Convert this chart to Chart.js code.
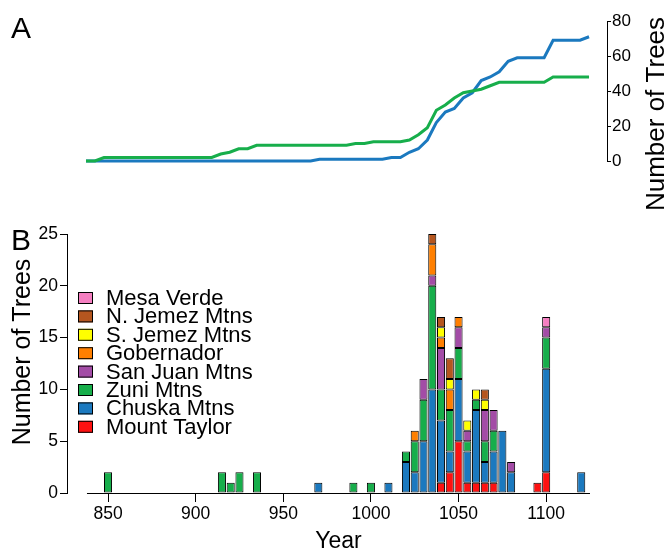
<!DOCTYPE html>
<html>
<head>
<meta charset="utf-8">
<script src="https://cdn.jsdelivr.net/npm/chart.js@4.4.0/dist/chart.umd.min.js"></script>
<style>
  html, body { margin: 0; padding: 0; background: #fff; }
  #wrap { position: relative; width: 665px; height: 550px; }
  #wrap canvas { position: absolute; left: 0; top: 0; }
</style>
</head>
<body>
<div id="wrap">
  <canvas id="chartB" width="665" height="550"></canvas>
  <canvas id="chartA" width="665" height="550"></canvas>
</div>
<script>
// ---- Panel B: trees per 5-year bin, by region ----
const binYears    = [850, 915, 920, 925, 935, 970, 990, 1000, 1010, 1020, 1025, 1030, 1035, 1040, 1045, 1050, 1055, 1060, 1065, 1070, 1075, 1080, 1095, 1100, 1120];
const mountTaylor = [0, 0, 0, 0, 0, 0, 0, 0, 0, 0, 0, 0, 0, 1, 2, 5, 1, 1, 1, 1, 0, 0, 1, 2, 0];
const chuska      = [0, 0, 0, 0, 0, 1, 0, 0, 1, 3, 2, 5, 10, 6, 2, 6, 3, 7, 2, 3, 6, 2, 0, 10, 2];
const zuni        = [2, 2, 1, 2, 2, 0, 1, 1, 0, 1, 3, 4, 10, 3, 4, 3, 1, 1, 2, 2, 0, 0, 0, 3, 0];
const sanJuan     = [0, 0, 0, 0, 0, 0, 0, 0, 0, 0, 0, 2, 1, 4, 0, 2, 1, 0, 3, 2, 0, 1, 0, 1, 0];
const gobernador  = [0, 0, 0, 0, 0, 0, 0, 0, 0, 0, 1, 0, 3, 1, 2, 1, 0, 0, 0, 0, 0, 0, 0, 0, 0];
const sJemez      = [0, 0, 0, 0, 0, 0, 0, 0, 0, 0, 0, 0, 0, 1, 1, 0, 1, 1, 1, 0, 0, 0, 0, 0, 0];
const nJemez      = [0, 0, 0, 0, 0, 0, 0, 0, 0, 0, 0, 0, 1, 1, 2, 0, 0, 0, 1, 0, 0, 0, 0, 0, 0];
const mesaVerde   = [0, 0, 0, 0, 0, 0, 0, 0, 0, 0, 0, 0, 0, 0, 0, 0, 0, 0, 0, 0, 0, 0, 0, 1, 0];

const xTickYears = [850, 900, 950, 1000, 1050, 1100];
const yTicksB = [0, 5, 10, 15, 20, 25];

// ---- Panel A: cumulative number of trees ----
const lineYears   = [840, 845, 850, 910, 915, 920, 925, 930, 935, 965, 970, 985, 990, 995, 1000, 1005, 1010, 1015, 1020, 1025, 1030, 1035, 1040, 1045, 1050, 1055, 1060, 1065, 1070, 1075, 1080, 1090, 1095, 1100, 1115, 1120];
const zuniTotal   = [0, 0, 2, 2, 4, 5, 7, 7, 9, 9, 9, 9, 10, 10, 11, 11, 11, 11, 12, 15, 19, 29, 32, 36, 39, 40, 41, 43, 45, 45, 45, 45, 45, 48, 48, 48];
const chuskaTotal = [0, 0, 0, 0, 0, 0, 0, 0, 0, 0, 1, 1, 1, 1, 1, 1, 2, 2, 5, 7, 12, 22, 28, 30, 36, 39, 46, 48, 51, 57, 59, 59, 59, 69, 69, 71];

const FONT = "'Liberation Sans', Arial, sans-serif";
Chart.defaults.font.family = FONT;
Chart.defaults.color = '#000';

// bottom of stack first
const regions = [
    { label: 'Mount Taylor', counts: mountTaylor, color: '#fe1111' },
    { label: 'Chuska Mtns', counts: chuska, color: '#1b79bf' },
    { label: 'Zuni Mtns', counts: zuni, color: '#17ae4b' },
    { label: 'San Juan Mtns', counts: sanJuan, color: '#a34ca6' },
    { label: 'Gobernador', counts: gobernador, color: '#ff7f00' },
    { label: 'S. Jemez Mtns', counts: sJemez, color: '#ffff00' },
    { label: 'N. Jemez Mtns', counts: nJemez, color: '#b5561f' },
    { label: 'Mesa Verde', counts: mesaVerde, color: '#f57fc1' },
];

const barDatasets = regions.map(r => ({
    label: r.label,
    data: binYears.map((yr, i) => ({ x: yr, y: r.counts[i] })).filter(p => p.y > 0),
    backgroundColor: r.color,
    borderColor: '#000',
    borderWidth: 1,
    borderSkipped: false,
    barPercentage: 0.92,
    categoryPercentage: 1,
}));

// extra drawing for panel B: detached x axis line, titles, legend
const panelBExtras = {
    id: 'panelBExtras',
    afterDraw(chart) {
        const { ctx, scales } = chart;
        const x = scales.x, y = scales.y;
        ctx.save();
        ctx.strokeStyle = '#000';
        ctx.lineWidth = 1;
        const y0 = Math.round(y.getPixelForValue(0)) + 0.5;
        ctx.beginPath();
        ctx.moveTo(x.getPixelForValue(838), y0);
        ctx.lineTo(x.getPixelForValue(1125), y0);
        ctx.stroke();

        ctx.fillStyle = '#000';
        ctx.font = '30px ' + FONT;
        ctx.textAlign = 'left';
        ctx.textBaseline = 'alphabetic';
        ctx.fillText('B', 11, 250);

        ctx.font = '23px ' + FONT;
        ctx.textAlign = 'center';
        ctx.fillText('Year', (x.getPixelForValue(838) + x.getPixelForValue(1125)) / 2, 548);

        ctx.save();
        ctx.translate(23, 352);
        ctx.rotate(-Math.PI / 2);
        ctx.font = '25px ' + FONT;
        ctx.textBaseline = 'middle';
        ctx.fillText('Number of Trees', 0, 0);
        ctx.restore();

        // legend, top of stack first
        const items = chart.data.datasets.slice().reverse();
        ctx.font = '22px ' + FONT;
        ctx.textAlign = 'left';
        ctx.textBaseline = 'middle';
        items.forEach((ds, i) => {
            const cy = 298 + i * 18.4;
            ctx.fillStyle = ds.backgroundColor;
            ctx.fillRect(78, cy - 6, 15, 12);
            ctx.strokeRect(78.5, cy - 5.5, 14, 11);
            ctx.fillStyle = '#000';
            ctx.fillText(ds.label, 106, cy + 1);
        });
        ctx.restore();
    }
};

new Chart(document.getElementById('chartB'), {
    type: 'bar',
    data: { datasets: barDatasets },
    options: {
        responsive: false,
        animation: false,
        layout: { padding: { left: 0, top: 234, right: 75, bottom: 0 } },
        plugins: { legend: { display: false }, tooltip: { enabled: false } },
        scales: {
            x: {
                type: 'linear',
                stacked: true,
                offset: false,
                min: 826.6,
                max: 1125,
                afterBuildTicks(s) { s.ticks = xTickYears.map(v => ({ value: v })); },
                ticks: { font: { size: 17.5 }, color: '#000', padding: 2, maxRotation: 0, autoSkip: false, callback: v => String(v) },
                grid: { offset: false, drawOnChartArea: false, drawTicks: true, tickLength: 9, color: '#000' },
                border: { display: false },
                afterFit(s) { s.height = 57; }
            },
            y: {
                stacked: true,
                min: 0,
                max: 25,
                afterBuildTicks(s) { s.ticks = yTicksB.map(v => ({ value: v })); },
                ticks: { font: { size: 17.5 }, color: '#000', padding: 2 },
                grid: { drawOnChartArea: false, drawTicks: true, tickLength: 7, color: '#000' },
                border: { display: true, color: '#000', width: 1 },
                afterFit(s) { s.width = 67; }
            }
        }
    },
    plugins: [panelBExtras]
});

// ---- Panel A ----
const panelAExtras = {
    id: 'panelAExtras',
    afterDraw(chart) {
        const { ctx } = chart;
        ctx.save();
        ctx.fillStyle = '#000';
        ctx.font = '30px ' + FONT;
        ctx.textBaseline = 'alphabetic';
        ctx.fillText('A', 11, 38);
        ctx.translate(657, 114);
        ctx.rotate(-Math.PI / 2);
        ctx.font = '26px ' + FONT;
        ctx.textAlign = 'center';
        ctx.textBaseline = 'middle';
        ctx.fillText('Number of Trees', 0, 0);
        ctx.restore();
    }
};

const toPoints = vals => lineYears.map((yr, i) => ({ x: yr, y: vals[i] }));

new Chart(document.getElementById('chartA'), {
    type: 'line',
    data: {
        datasets: [
            { label: 'Zuni Mtns', data: toPoints(zuniTotal), borderColor: '#17ae4b', borderWidth: 3, pointRadius: 0, tension: 0, fill: false, clip: false },
            { label: 'Chuska Mtns', data: toPoints(chuskaTotal), borderColor: '#1b79bf', borderWidth: 3, pointRadius: 0, tension: 0, fill: false, clip: false }
        ]
    },
    options: {
        responsive: false,
        animation: false,
        layout: { padding: { left: 86, top: 21, right: 0, bottom: 389 } },
        plugins: { legend: { display: false }, tooltip: { enabled: false } },
        scales: {
            x: { type: 'linear', min: 840, max: 1130, display: false },
            y: {
                position: 'right',
                min: 0,
                max: 80,
                ticks: { stepSize: 20, font: { size: 17 }, color: '#000', padding: 1 },
                grid: { drawOnChartArea: false, drawTicks: true, tickLength: 4, color: '#000' },
                border: { display: true, color: '#000', width: 1 },
                afterFit(s) { s.width = 58; }
            }
        }
    },
    plugins: [panelAExtras]
});
</script>
</body>
</html>
